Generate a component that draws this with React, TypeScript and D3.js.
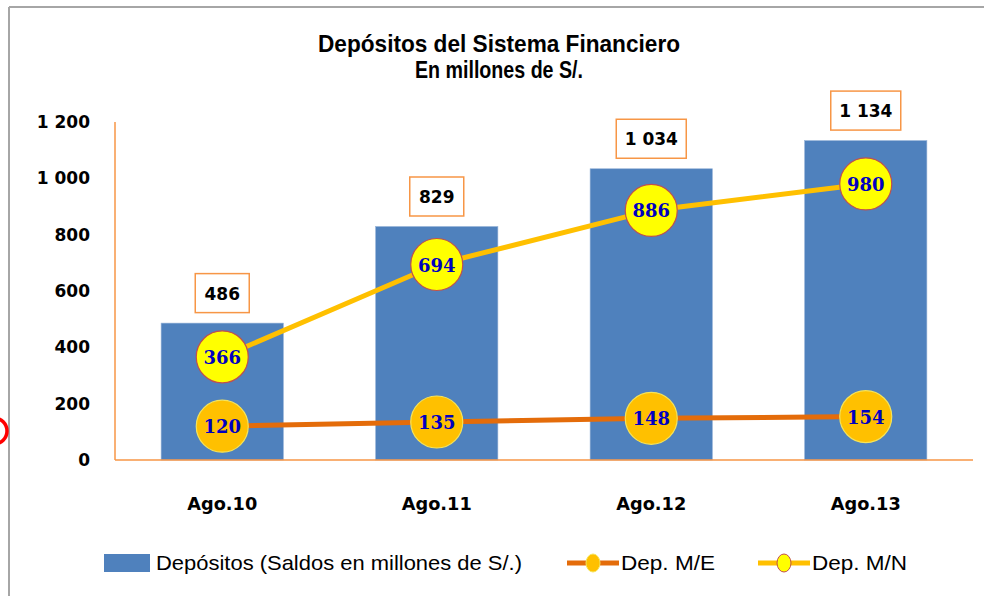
import React, { useEffect, useRef } from 'react';
import * as d3 from 'd3';

const periods = ['Ago.10', 'Ago.11', 'Ago.12', 'Ago.13'];
const depositos = [486, 829, 1034, 1134];
const depositosLabels = ['486', '829', '1 034', '1 134'];
const depME = [120, 135, 148, 154];
const depMN = [366, 694, 886, 980];
const yTicks = [0, 200, 400, 600, 800, 1000, 1200];
const yTickLabels = ['0', '200', '400', '600', '800', '1 000', '1 200'];

const App: React.FC = () => {
  const svgRef = useRef<SVGSVGElement>(null);

  useEffect(() => {
    if (!svgRef.current) return;
    const svg = d3.select(svgRef.current);
    svg.selectAll('*').remove();

    const width = 984;
    const height = 596;
    const left = 115;
    const right = 973;
    const top = 122;
    const bottom = 460;

    svg.attr('width', width).attr('height', height);

    // chart frame (only top and left edges visible)
    svg.append('rect').attr('width', width).attr('height', height).attr('fill', 'white');
    svg.append('line').attr('x1', 9).attr('x2', width).attr('y1', 7).attr('y2', 7)
      .attr('stroke', '#a6a6a6').attr('stroke-width', 2);
    svg.append('line').attr('x1', 9).attr('x2', 9).attr('y1', 7).attr('y2', height)
      .attr('stroke', '#a6a6a6').attr('stroke-width', 2);

    // red mark on left edge
    svg.append('circle').attr('cx', -6).attr('cy', 431).attr('r', 13)
      .attr('fill', 'none').attr('stroke', '#ff0000').attr('stroke-width', 3.5);

    const titleFont = '"Liberation Sans Narrow", "Arial Narrow", "Liberation Sans", sans-serif';

    // titles
    svg.append('text').attr('x', 499).attr('y', 52).attr('text-anchor', 'middle')
      .attr('font-family', titleFont).attr('font-weight', 'bold').attr('font-size', 24)
      .attr('textLength', 362).attr('lengthAdjust', 'spacingAndGlyphs')
      .text('Depósitos del Sistema Financiero');
    svg.append('text').attr('x', 499).attr('y', 78).attr('text-anchor', 'middle')
      .attr('font-family', titleFont).attr('font-weight', 'bold').attr('font-size', 23)
      .attr('textLength', 168).attr('lengthAdjust', 'spacingAndGlyphs')
      .text('En millones de S/.');

    const x = d3.scaleBand<string>().domain(periods).range([left, right])
      .paddingInner(0.43).paddingOuter(0.215);
    const y = d3.scaleLinear().domain([0, 1200]).range([bottom, top]);

    // y tick labels
    svg.append('g').selectAll('text').data(yTicks).enter().append('text')
      .attr('x', 90).attr('y', d => y(d) + 6).attr('text-anchor', 'end')
      .attr('font-family', '"DejaVu Sans", sans-serif').attr('font-weight', 'bold')
      .attr('font-size', 17).attr('fill', '#000')
      .text((d, i) => yTickLabels[i]);

    // bars
    svg.append('g').selectAll('rect').data(depositos).enter().append('rect')
      .attr('x', (d, i) => x(periods[i])!)
      .attr('y', d => y(d))
      .attr('width', x.bandwidth())
      .attr('height', d => bottom - y(d))
      .attr('fill', '#4f81bd')
      .attr('stroke', '#95b3d7').attr('stroke-width', 0.6);

    // axes lines
    svg.append('line').attr('x1', left).attr('x2', left).attr('y1', top).attr('y2', bottom)
      .attr('stroke', '#f79646').attr('stroke-width', 1.5);
    svg.append('line').attr('x1', left).attr('x2', right).attr('y1', bottom).attr('y2', bottom)
      .attr('stroke', '#f79646').attr('stroke-width', 1.5);

    // x labels
    svg.append('g').selectAll('text').data(periods).enter().append('text')
      .attr('x', d => x(d)! + x.bandwidth() / 2).attr('y', 510).attr('text-anchor', 'middle')
      .attr('font-family', '"DejaVu Sans", sans-serif').attr('font-weight', 'bold')
      .attr('font-size', 18).attr('fill', '#000')
      .attr('textLength', 70).attr('lengthAdjust', 'spacingAndGlyphs')
      .text(d => d);

    // bar value labels with boxes
    const boxes = svg.append('g').selectAll('g').data(depositos).enter().append('g')
      .attr('transform', (d, i) => `translate(${x(periods[i])! + x.bandwidth() / 2}, ${y(d) - 30})`);
    boxes.each(function (d, i) {
      const g = d3.select(this);
      const label = depositosLabels[i];
      const w = label.length > 3 ? 70 : 54;
      g.append('rect').attr('x', -w / 2).attr('y', -19.5).attr('width', w).attr('height', 39)
        .attr('fill', 'white').attr('stroke', '#f79646').attr('stroke-width', 1.5);
      g.append('text').attr('y', 6.5).attr('text-anchor', 'middle')
        .attr('font-family', '"DejaVu Sans", sans-serif').attr('font-weight', 'bold')
        .attr('font-size', 17).attr('fill', '#000')
        .text(label);
    });

    const cx = (i: number) => x(periods[i])! + x.bandwidth() / 2;

    const lineGen = d3.line<number>().x((d, i) => cx(i)).y(d => y(d));

    svg.append('path').datum(depME).attr('d', lineGen).attr('fill', 'none')
      .attr('stroke', '#e46c0a').attr('stroke-width', 5);
    svg.append('path').datum(depMN).attr('d', lineGen).attr('fill', 'none')
      .attr('stroke', '#ffc000').attr('stroke-width', 5);

    const drawMarkers = (vals: number[], fill: string, stroke: string) => {
      const g = svg.append('g');
      g.selectAll('circle').data(vals).enter().append('circle')
        .attr('cx', (d, i) => cx(i)).attr('cy', d => y(d)).attr('r', 26)
        .attr('fill', fill).attr('stroke', stroke).attr('stroke-width', 1.2);
      g.selectAll('text').data(vals).enter().append('text')
        .attr('x', (d, i) => cx(i)).attr('y', d => y(d) + 7).attr('text-anchor', 'middle')
        .attr('font-family', '"DejaVu Serif", serif').attr('font-weight', 'bold')
        .attr('font-size', 18).attr('fill', '#0000c0')
        .text(d => d);
    };
    drawMarkers(depME, '#ffc000', '#f5e35a');
    drawMarkers(depMN, '#ffff00', '#c0504d');

    // legend
    const legendFont = '"Liberation Sans Narrow", "Arial Narrow", "Liberation Sans", sans-serif';
    const ly = 563;
    const legend = svg.append('g');
    legend.append('rect').attr('x', 104).attr('y', 554).attr('width', 46).attr('height', 18)
      .attr('fill', '#4f81bd');
    legend.append('text').attr('x', 156).attr('y', ly + 7).attr('font-family', legendFont)
      .attr('font-size', 21).attr('textLength', 366).attr('lengthAdjust', 'spacingAndGlyphs')
      .text('Depósitos (Saldos en millones de S/.)');

    legend.append('line').attr('x1', 567).attr('x2', 619).attr('y1', ly).attr('y2', ly)
      .attr('stroke', '#e46c0a').attr('stroke-width', 5);
    legend.append('ellipse').attr('cx', 593).attr('cy', ly).attr('rx', 7).attr('ry', 9)
      .attr('fill', '#ffc000').attr('stroke', '#f5e35a').attr('stroke-width', 1);
    legend.append('text').attr('x', 621).attr('y', ly + 7).attr('font-family', legendFont)
      .attr('font-size', 21).attr('textLength', 94).attr('lengthAdjust', 'spacingAndGlyphs')
      .text('Dep. M/E');

    legend.append('line').attr('x1', 758).attr('x2', 810).attr('y1', ly).attr('y2', ly)
      .attr('stroke', '#ffc000').attr('stroke-width', 5);
    legend.append('ellipse').attr('cx', 784).attr('cy', ly).attr('rx', 7).attr('ry', 9)
      .attr('fill', '#ffff00').attr('stroke', '#c0504d').attr('stroke-width', 1);
    legend.append('text').attr('x', 812).attr('y', ly + 7).attr('font-family', legendFont)
      .attr('font-size', 21).attr('textLength', 95).attr('lengthAdjust', 'spacingAndGlyphs')
      .text('Dep. M/N');
  }, []);

  return (
    <div style={{ position: 'absolute', top: 0, left: 0 }}>
      <svg ref={svgRef} width={984} height={596} style={{ display: 'block' }}></svg>
    </div>
  );
};

export default App;
